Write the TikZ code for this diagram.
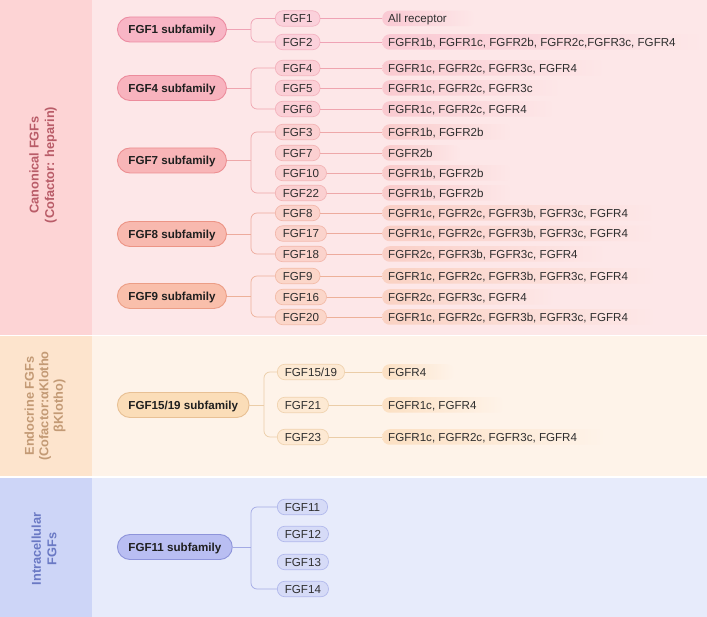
\documentclass[tikz,border=0pt]{standalone}
\usepackage{fontspec}
\setmainfont{Liberation Sans}
\definecolor{txt}{HTML}{2E2E2E}
% bands
\definecolor{canL}{HTML}{FDD4D5}
\definecolor{canM}{HTML}{FDE7E8}
\definecolor{endL}{HTML}{FDE4CD}
\definecolor{endM}{HTML}{FEF3E9}
\definecolor{intL}{HTML}{CDD5F7}
\definecolor{intM}{HTML}{E7EBFB}
\definecolor{canT}{HTML}{B95C68}
\definecolor{endT}{HTML}{C39A75}
\definecolor{intT}{HTML}{6A79C4}
% subfamily colours: fill, draw, kid fill, kid draw, line, label
\definecolor{f1}{HTML}{F8B5C5}\definecolor{d1}{HTML}{EC8CA2}\definecolor{kf1}{HTML}{FBD1DB}\definecolor{kd1}{HTML}{F4B4C3}\definecolor{l1}{HTML}{EFA3B5}\definecolor{r1c}{HTML}{FAC9D3}
\definecolor{f4}{HTML}{F8B3BE}\definecolor{d4}{HTML}{EC8C9C}\definecolor{kf4}{HTML}{FBCFD6}\definecolor{kd4}{HTML}{F4B4BE}\definecolor{l4}{HTML}{EFA5AF}\definecolor{r4c}{HTML}{FACAD0}
\definecolor{f7}{HTML}{F8B5B7}\definecolor{d7}{HTML}{EC8E91}\definecolor{kf7}{HTML}{FBD0D1}\definecolor{kd7}{HTML}{F3B5B6}\definecolor{l7}{HTML}{EEA8A9}\definecolor{r7c}{HTML}{FACBCB}
\definecolor{f8}{HTML}{F8B9AF}\definecolor{d8}{HTML}{EC9485}\definecolor{kf8}{HTML}{FBD3CC}\definecolor{kd8}{HTML}{F3B8AC}\definecolor{l8}{HTML}{EDAB9D}\definecolor{r8c}{HTML}{FACFC6}
\definecolor{f9}{HTML}{F9BFAB}\definecolor{d9}{HTML}{EC9E86}\definecolor{kf9}{HTML}{FBD6C9}\definecolor{kd9}{HTML}{F3BCA8}\definecolor{l9}{HTML}{EDB199}\definecolor{r9c}{HTML}{FAD2C3}
\definecolor{fe}{HTML}{FBDDB8}\definecolor{de}{HTML}{E8C094}\definecolor{kfe}{HTML}{FDE9D3}\definecolor{kde}{HTML}{F0D3B0}\definecolor{le}{HTML}{EBCDA8}\definecolor{rec}{HTML}{FCE0C3}
\definecolor{fi}{HTML}{B9BEF2}\definecolor{di}{HTML}{8E94DA}\definecolor{kfi}{HTML}{D6DBF7}\definecolor{kdi}{HTML}{B2B9EC}\definecolor{li}{HTML}{A3AAE4}
\begin{document}
\begin{tikzpicture}[x=1pt,y=-1pt,
  every node/.style={font=\fontsize{11.6}{13}\selectfont, text=txt},
  sub/.style={draw, line width=0.9pt, rounded corners=12.5pt, minimum height=25pt,
    inner xsep=11pt, inner ysep=0pt, text height=8.4pt, text depth=0pt,
    font=\bfseries\fontsize{11.6}{13}\selectfont, text=black!88, anchor=west},
  kid/.style={draw, line width=0.7pt, rounded corners=7.5pt, minimum height=15.5pt,
    inner xsep=7.5pt, inner ysep=0pt, text height=8.4pt, text depth=0pt, anchor=west},
  rec/.style={rounded corners=7.5pt, minimum height=15.5pt, inner xsep=6pt, inner ysep=0pt,
    text height=8.4pt, text depth=0pt, anchor=west},
  side/.style={rotate=90, align=center, font=\bfseries\fontsize{12.8}{15.5}\selectfont},
  conn/.style={line width=0.7pt},
  brace/.style={line width=0.7pt, rounded corners=6pt}
]
\useasboundingbox (0,0) rectangle (707,617);
\fill[white] (0,0) rectangle (707,617);
% bands
\fill[canL] (0,0) rectangle (92,335);
\fill[canM] (92,0) rectangle (707,335);
\fill[endL] (0,336.5) rectangle (92,476);
\fill[endM] (92,336.5) rectangle (707,476);
\fill[intL] (0,477.5) rectangle (92,617);
\fill[intM] (92,477.5) rectangle (707,617);
% side labels
\node[side, text=canT] (tcan) at (43,165) {Canonical FGFs\\(Cofactor: heparin)};
\node[side, text=endT, font=\bfseries\fontsize{12.8}{14.5}\selectfont] (tend) at (45,406) {Endocrine FGFs\\(Cofactor:αKlotho\\βKlotho)};
\node[side, text=intT] (tint) at (44,549) {Intracellular\\FGFs};

% ---------- FGF1 subfamily
\node[sub, fill=f1, draw=d1] (s1) at (117,29.5) {FGF1 subfamily};
\coordinate (b1) at (251,29.5);
\node[kid, fill=kf1, draw=kd1] (k1) at (275,18.5) {FGF1};
\node[kid, fill=kf1, draw=kd1] (k2) at (275,42) {FGF2};
\node[rec, left color=r1c, right color=canM] (q1) at (382,18.5) {All receptor\hspace*{22pt}};
\node[rec, left color=r1c, right color=canM] (q2) at (382,42) {FGFR1b, FGFR1c, FGFR2b, FGFR2c,FGFR3c, FGFR4\hspace*{22pt}};
\draw[conn, l1] (s1.east) -- (b1);
\draw[brace, l1] (k1.west) -| (b1) |- (k2.west);
\draw[conn, l1] (k1.east) -- (q1.west);
\draw[conn, l1] (k2.east) -- (q2.west);

% ---------- FGF4 subfamily
\node[sub, fill=f4, draw=d4] (s4) at (117,88) {FGF4 subfamily};
\coordinate (b4) at (251,88);
\node[kid, fill=kf4, draw=kd4] (k4) at (275,68) {FGF4};
\node[kid, fill=kf4, draw=kd4] (k5) at (275,88) {FGF5};
\node[kid, fill=kf4, draw=kd4] (k6) at (275,109) {FGF6};
\node[rec, left color=r4c, right color=canM] (q4) at (382,68) {FGFR1c, FGFR2c, FGFR3c, FGFR4\hspace*{22pt}};
\node[rec, left color=r4c, right color=canM] (q5) at (382,88) {FGFR1c, FGFR2c, FGFR3c\hspace*{22pt}};
\node[rec, left color=r4c, right color=canM] (q6) at (382,109) {FGFR1c, FGFR2c, FGFR4\hspace*{22pt}};
\draw[conn, l4] (s4.east) -- (b4);
\draw[brace, l4] (k4.west) -| (b4) |- (k6.west);
\draw[conn, l4] (k4.east) -- (q4.west);
\draw[conn, l4] (k5.east) -- (q5.west);
\draw[conn, l4] (k6.east) -- (q6.west);

% ---------- FGF7 subfamily
\node[sub, fill=f7, draw=d7] (s7) at (117,160.5) {FGF7 subfamily};
\coordinate (b7) at (251,160.5);
\node[kid, fill=kf7, draw=kd7] (k3) at (275,132) {FGF3};
\node[kid, fill=kf7, draw=kd7] (k7) at (275,153) {FGF7};
\node[kid, fill=kf7, draw=kd7] (k10) at (275,173) {FGF10};
\node[kid, fill=kf7, draw=kd7] (k22) at (275,193) {FGF22};
\node[rec, left color=r7c, right color=canM] (q3) at (382,132) {FGFR1b, FGFR2b\hspace*{22pt}};
\node[rec, left color=r7c, right color=canM] (q7) at (382,153) {FGFR2b\hspace*{22pt}};
\node[rec, left color=r7c, right color=canM] (q10) at (382,173) {FGFR1b, FGFR2b\hspace*{22pt}};
\node[rec, left color=r7c, right color=canM] (q22) at (382,193) {FGFR1b, FGFR2b\hspace*{22pt}};
\draw[conn, l7] (s7.east) -- (b7);
\draw[brace, l7] (k3.west) -| (b7) |- (k22.west);
\draw[conn, l7] (k3.east) -- (q3.west);
\draw[conn, l7] (k7.east) -- (q7.west);
\draw[conn, l7] (k10.east) -- (q10.west);
\draw[conn, l7] (k22.east) -- (q22.west);

% ---------- FGF8 subfamily
\node[sub, fill=f8, draw=d8] (s8) at (117,234) {FGF8 subfamily};
\coordinate (b8) at (251,234);
\node[kid, fill=kf8, draw=kd8] (k8) at (275,213) {FGF8};
\node[kid, fill=kf8, draw=kd8] (k17) at (275,233.5) {FGF17};
\node[kid, fill=kf8, draw=kd8] (k18) at (275,254) {FGF18};
\node[rec, left color=r8c, right color=canM] (q8) at (382,213) {FGFR1c, FGFR2c, FGFR3b, FGFR3c, FGFR4\hspace*{22pt}};
\node[rec, left color=r8c, right color=canM] (q17) at (382,233.5) {FGFR1c, FGFR2c, FGFR3b, FGFR3c, FGFR4\hspace*{22pt}};
\node[rec, left color=r8c, right color=canM] (q18) at (382,254) {FGFR2c, FGFR3b, FGFR3c, FGFR4\hspace*{22pt}};
\draw[conn, l8] (s8.east) -- (b8);
\draw[brace, l8] (k8.west) -| (b8) |- (k18.west);
\draw[conn, l8] (k8.east) -- (q8.west);
\draw[conn, l8] (k17.east) -- (q17.west);
\draw[conn, l8] (k18.east) -- (q18.west);

% ---------- FGF9 subfamily
\node[sub, fill=f9, draw=d9] (s9) at (117,296) {FGF9 subfamily};
\coordinate (b9) at (251,296);
\node[kid, fill=kf9, draw=kd9] (k9) at (275,276) {FGF9};
\node[kid, fill=kf9, draw=kd9] (k16) at (275,297) {FGF16};
\node[kid, fill=kf9, draw=kd9] (k20) at (275,317) {FGF20};
\node[rec, left color=r9c, right color=canM] (q9) at (382,276) {FGFR1c, FGFR2c, FGFR3b, FGFR3c, FGFR4\hspace*{22pt}};
\node[rec, left color=r9c, right color=canM] (q16) at (382,297) {FGFR2c, FGFR3c, FGFR4\hspace*{22pt}};
\node[rec, left color=r9c, right color=canM] (q20) at (382,317) {FGFR1c, FGFR2c, FGFR3b, FGFR3c, FGFR4\hspace*{22pt}};
\draw[conn, l9] (s9.east) -- (b9);
\draw[brace, l9] (k9.west) -| (b9) |- (k20.west);
\draw[conn, l9] (k9.east) -- (q9.west);
\draw[conn, l9] (k16.east) -- (q16.west);
\draw[conn, l9] (k20.east) -- (q20.west);

% ---------- FGF15/19 subfamily
\node[sub, fill=fe, draw=de] (se) at (117,405) {FGF15/19 subfamily};
\coordinate (be) at (264,405);
\node[kid, fill=kfe, draw=kde] (k15) at (277,372) {FGF15/19};
\node[kid, fill=kfe, draw=kde] (k21) at (277,405) {FGF21};
\node[kid, fill=kfe, draw=kde] (k23) at (277,437) {FGF23};
\node[rec, left color=rec, right color=endM] (q15) at (382,372) {FGFR4\hspace*{22pt}};
\node[rec, left color=rec, right color=endM] (q21) at (382,405) {FGFR1c, FGFR4\hspace*{22pt}};
\node[rec, left color=rec, right color=endM] (q23) at (382,437) {FGFR1c, FGFR2c, FGFR3c, FGFR4\hspace*{22pt}};
\draw[conn, le] (se.east) -- (be);
\draw[brace, le] (k15.west) -| (be) |- (k23.west);
\draw[conn, le] (k15.east) -- (q15.west);
\draw[conn, le] (k21.east) -- (q21.west);
\draw[conn, le] (k23.east) -- (q23.west);

% ---------- FGF11 subfamily
\node[sub, fill=fi, draw=di] (si) at (117,547) {FGF11 subfamily};
\coordinate (bi) at (251,547);
\node[kid, fill=kfi, draw=kdi] (k11) at (277,507) {FGF11};
\node[kid, fill=kfi, draw=kdi] (k12) at (277,534) {FGF12};
\node[kid, fill=kfi, draw=kdi] (k13) at (277,562) {FGF13};
\node[kid, fill=kfi, draw=kdi] (k14) at (277,589) {FGF14};
\draw[conn, li] (si.east) -- (bi);
\draw[brace, li] (k11.west) -| (bi) |- (k14.west);
\end{tikzpicture}
\end{document}
